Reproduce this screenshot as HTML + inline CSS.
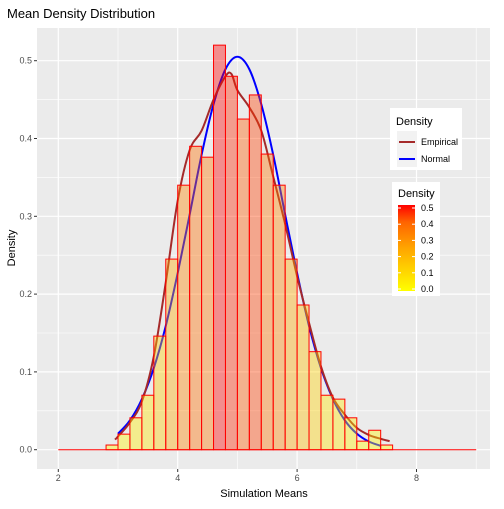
<!DOCTYPE html>
<html><head><meta charset="utf-8"><style>
body{margin:0;background:#fff;}
svg text{font-family:"Liberation Sans",Arial,sans-serif;}
</style></head><body>
<svg id="chart" width="504" height="504" viewBox="0 0 504 504" xmlns="http://www.w3.org/2000/svg">
<defs>
<linearGradient id="cbar" x1="0" y1="1" x2="0" y2="0">
<stop offset="0" stop-color="#ffff00"/><stop offset="0.5" stop-color="#ffa500"/><stop offset="0.8" stop-color="#ff6400"/><stop offset="1" stop-color="#ff0000"/>
</linearGradient>
</defs>
<rect x="37" y="28" width="453" height="441" fill="#ebebeb"/>
<g id="grid"></g>
<g id="lines"></g>
<g id="bars"></g>
<g id="axes"></g>
<text x="7" y="18" font-size="13" fill="#000">Mean Density Distribution</text>
<text x="264" y="497" font-size="11" text-anchor="middle" fill="#000">Simulation Means</text>
<text transform="translate(15,248) rotate(-90)" font-size="11" text-anchor="middle" fill="#000">Density</text>
<g>
<rect x="390" y="108" width="72" height="62" fill="#fff"/>
<text x="396" y="125" font-size="11">Density</text>
<rect x="397" y="131" width="20" height="36" fill="#f2f2f2"/>
<line x1="399" y1="142" x2="415" y2="142" stroke="#a52a2a" stroke-width="2"/>
<text x="421" y="145" font-size="9">Empirical</text>
<line x1="399" y1="159" x2="415" y2="159" stroke="#0000ff" stroke-width="2"/>
<text x="421" y="162" font-size="9">Normal</text>
</g>
<g>
<rect x="392" y="182" width="48" height="114" fill="#fff"/>
<text x="398" y="197" font-size="11">Density</text>
<rect x="398" y="205" width="17" height="86" fill="url(#cbar)"/>
<g id="cbticks"></g>
</g>
</svg>
<script>
const binStarts=[2.8,3.0,3.2,3.4,3.6,3.8,4.0,4.2,4.4,4.6,4.8,5.0,5.2,5.4,5.6,5.8,6.0,6.2,6.4,6.6,6.8,7.0,7.2,7.4];
const binDensity=[0.006,0.020,0.041,0.070,0.146,0.245,0.340,0.390,0.376,0.520,0.480,0.425,0.456,0.380,0.340,0.245,0.186,0.126,0.070,0.065,0.041,0.011,0.025,0.006];
const binWidth=0.2;
const empX=[2.95,3.0,3.2,3.4,3.6,3.8,4.0,4.2,4.4,4.6,4.8,4.9,5.0,5.2,5.4,5.6,5.8,6.0,6.2,6.4,6.6,6.8,7.0,7.2,7.4,7.55];
const empY=[0.013,0.017,0.035,0.062,0.12,0.215,0.32,0.385,0.41,0.45,0.48,0.483,0.462,0.44,0.41,0.351,0.29,0.223,0.163,0.107,0.067,0.045,0.028,0.019,0.014,0.011];
const normX=[3.0,3.2,3.4,3.6,3.8,4.0,4.2,4.4,4.6,4.8,5.0,5.2,5.4,5.6,5.8,6.0,6.2,6.4,6.6,6.8,7.0,7.2,7.4];
const normY=[0.0206,0.0377,0.065,0.105,0.159,0.227,0.302,0.379,0.444,0.489,0.505,0.489,0.444,0.379,0.302,0.227,0.159,0.105,0.065,0.0377,0.0206,0.0105,0.005];
const xTicks=[2,4,6,8];
const yTicks=[0,0.1,0.2,0.3,0.4,0.5];
const cbTicks=[0,0.1,0.2,0.3,0.4,0.5];
const NS='http://www.w3.org/2000/svg';
const X0=58.3,XS=59.7,Y0=449.7,YS=778;
const sx=v=>X0+(v-2)*XS, sy=v=>Y0-v*YS;
function mk(tag,attrs,parent){const e=document.createElementNS(NS,tag);for(const k in attrs)e.setAttribute(k,attrs[k]);parent.appendChild(e);return e;}
const grid=document.getElementById('grid'),bars=document.getElementById('bars'),lines=document.getElementById('lines'),axes=document.getElementById('axes');
for(let i=0;i<xTicks.length;i++){
 const v=xTicks[i];
 let m=mk('line',{x1:sx(v+1),x2:sx(v+1),y1:28,y2:469,stroke:'#fff','stroke-width':0.6},grid);
 
 
 let g=mk('line',{x1:sx(v),x2:sx(v),y1:28,y2:469,stroke:'#fff','stroke-width':1.2},grid);
 
 
 mk('line',{x1:sx(v),x2:sx(v),y1:469,y2:472,stroke:'#333'},axes);
 let t=mk('text',{x:sx(v),y:481,'font-size':9,'text-anchor':'middle',fill:'#4d4d4d'},axes);
 t.textContent=String(v);
 
 
}
for(let i=0;i<yTicks.length;i++){
 const v=yTicks[i];
 let m=mk('line',{x1:37,x2:490,y1:sy(v+0.05),y2:sy(v+0.05),stroke:'#fff','stroke-width':0.6},grid);
 
 
 let g=mk('line',{x1:37,x2:490,y1:sy(v),y2:sy(v),stroke:'#fff','stroke-width':1.2},grid);
 
 
 mk('line',{x1:34,x2:37,y1:sy(v),y2:sy(v),stroke:'#333'},axes);
 let t=mk('text',{x:32,y:sy(v)+3,'font-size':9,'text-anchor':'end',fill:'#4d4d4d'},axes);
 t.textContent=v.toFixed(1);
 
 
}
let bl=mk('line',{x1:sx(2),x2:sx(9),y1:Y0,y2:Y0,stroke:'#ff0000','stroke-width':1},bars);


const stopsT=[0,0.5,0.8,1], stopsG=[255,165,100,0];
function col(d){const t=Math.max(0,Math.min(1,d/0.52));let g=0;
 for(let k=0;k<stopsT.length-1;k++){if(t>=stopsT[k]&&t<=stopsT[k+1]){const u=(t-stopsT[k])/(stopsT[k+1]-stopsT[k]);g=stopsG[k]+(stopsG[k+1]-stopsG[k])*u;}}
 return `rgb(255,${Math.round(g)},0)`;}
for(let i=0;i<binStarts.length;i++){
 const x=sx(binStarts[i]),w=binWidth*XS,y=sy(binDensity[i]);
 const r=mk('rect',{x:x,y:y,width:w,height:Y0-y,fill:col(binDensity[i]),'fill-opacity':0.4,stroke:'#ff0000','stroke-width':1},bars);
 
 
}
function smooth(xs,ys){const p=xs.map((v,i)=>[sx(v),sy(ys[i])]);let d=`M${p[0][0]},${p[0][1]}`;
 for(let i=0;i<p.length-1;i++){const p0=p[i-1]||p[i],p1=p[i],p2=p[i+1],p3=p[i+2]||p2;
  d+=` C${p1[0]+(p2[0]-p0[0])/6},${p1[1]+(p2[1]-p0[1])/6} ${p2[0]-(p3[0]-p1[0])/6},${p2[1]-(p3[1]-p1[1])/6} ${p2[0]},${p2[1]}`;}
 return d;}
const nl=mk('path',{d:smooth(normX,normY),fill:'none',stroke:'#0000ff','stroke-width':2},lines);


const el=mk('path',{d:smooth(empX,empY),fill:'none',stroke:'#a52a2a','stroke-width':2},lines);


const cbt=document.getElementById('cbticks');
for(let i=0;i<cbTicks.length;i++){
 const v=cbTicks[i],y=289-v/0.5*81;
 mk('line',{x1:398,x2:401,y1:y,y2:y,stroke:'#fff'},cbt);
 mk('line',{x1:412,x2:415,y1:y,y2:y,stroke:'#fff'},cbt);
 const t=mk('text',{x:421,y:y+3,'font-size':9,fill:'#000'},cbt);
 t.textContent=v.toFixed(1);
 
 
}
</script>
</body></html>
